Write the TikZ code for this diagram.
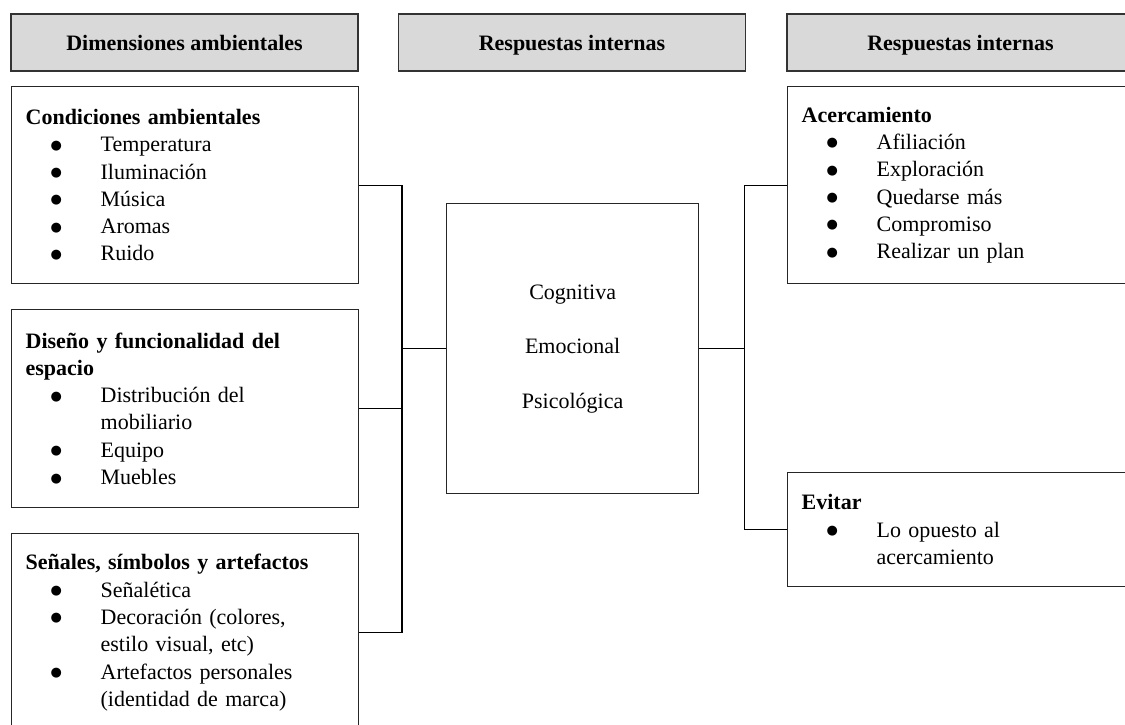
\documentclass[tikz,border=0pt]{standalone}
\usepackage{fontspec}
\setmainfont{Liberation Serif}
\newfontfamily\dotfont{DejaVu Sans}
\newcommand{\bul}[1]{\hspace*{25pt}\makebox[50pt][l]{\raisebox{2.5pt}{\dotfont\fontsize{13}{13}\selectfont ●}}#1}
\newcommand{\cont}[1]{\hspace*{75pt}#1}

\begin{document}
\begin{tikzpicture}[x=1pt, y=-1pt, line width=1.1pt,
  header/.style={rectangle, draw=black!80, line width=1.3pt, fill=gray!30,
    minimum width=347pt, minimum height=57pt,
    text height=18pt, text depth=3pt,
    font=\fontsize{22}{27.3}\selectfont\bfseries},
  listbox/.style={rectangle, draw=black!85, line width=1.3pt,
    anchor=north west, align=left,
    minimum width=347pt, text width=319pt, inner xsep=14pt, inner ysep=0pt,
    font=\fontsize{22}{27.3}\selectfont}]
  \useasboundingbox (0,0) rectangle (1125,724);

  % headers
  \node[header] (hdrDim) at (184.5, 42.5) {Dimensiones ambientales};
  \node[header] (hdrInt) at (572, 42.5) {Respuestas internas};
  \node[header] (hdrRes) at (960.5, 42.5) {Respuestas internas};

  % left column
  \node[listbox, minimum height=197pt] (condBox) at (11, 86) {%
    \textbf{Condiciones ambientales}\\
    \bul{Temperatura}\\
    \bul{Iluminación}\\
    \bul{Música}\\
    \bul{Aromas}\\
    \bul{Ruido}};
  \node[listbox, minimum height=198pt] (disBox) at (11, 309) {%
    \textbf{Diseño y funcionalidad del}\\
    \textbf{espacio}\\
    \bul{Distribución del}\\
    \cont{mobiliario}\\
    \bul{Equipo}\\
    \bul{Muebles}};
  \node[listbox, minimum height=198pt] (senBox) at (11, 533) {%
    \textbf{Señales, símbolos y artefactos}\\
    \bul{Señalética}\\
    \bul{Decoración (colores,}\\
    \cont{estilo visual, etc)}\\
    \bul{Artefactos personales}\\
    \cont{(identidad de marca)}};

  % middle
  \node[rectangle, draw=black!85, line width=1.3pt, anchor=north west,
    align=center, minimum width=252pt, minimum height=290pt,
    font=\fontsize{22}{54.5}\selectfont] (centBox) at (446, 203)
    {Cognitiva\\Emocional\\Psicológica};

  % right column
  \node[listbox, minimum height=197pt] (acerBox) at (787, 86) {%
    \textbf{Acercamiento}\\
    \bul{Afiliación}\\
    \bul{Exploración}\\
    \bul{Quedarse más}\\
    \bul{Compromiso}\\
    \bul{Realizar un plan}};
  \node[listbox, minimum height=114pt] (evitBox) at (787, 472) {%
    \textbf{Evitar}\\
    \bul{Lo opuesto al}\\
    \cont{acercamiento}};

  % connectors
  \coordinate (busL) at ([xshift=-44pt]centBox.west);
  \coordinate (busR) at ([xshift=45pt]centBox.east);
  \draw (condBox.east) -- (condBox.east -| busL) -- (senBox.east -| busL) -- (senBox.east);
  \draw (disBox.east) -- (disBox.east -| busL);
  \draw (busL) -- (centBox.west);
  \draw (acerBox.west) -- (acerBox.west -| busR) -- (evitBox.west -| busR) -- (evitBox.west);
  \draw (centBox.east) -- (busR);
\end{tikzpicture}
\end{document}
